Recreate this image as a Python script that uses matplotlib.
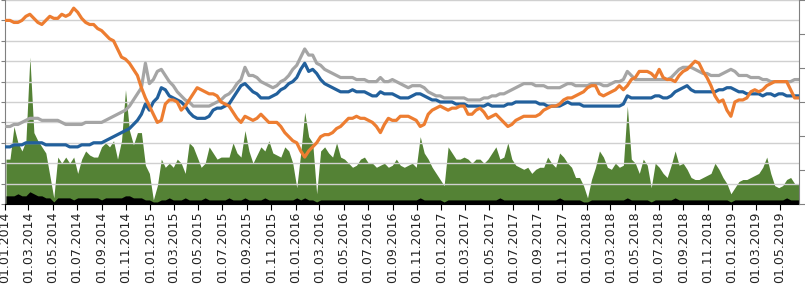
import matplotlib
matplotlib.use("Agg")
import matplotlib.pyplot as plt
import matplotlib.dates as mdates
import pandas as pd
from datetime import datetime

# one sample every 10 days
dates = pd.date_range("2014-01-04", periods=200, freq="10D")

orange = [
    90, 90, 89, 89, 90, 92, 93, 91, 89, 88,
    90, 92, 91, 91, 93, 92, 93, 96, 94, 91,
    89, 88, 88, 86, 85, 83, 81, 80, 76, 72,
    71, 69, 66, 63, 57, 52, 48, 44, 40, 41,
    49, 51, 51, 50, 46, 48, 51, 54, 57, 56,
    55, 54, 54, 53, 50, 49, 48, 45, 42, 40,
    43, 42, 41, 42, 44, 42, 40, 40, 40, 38,
    35, 33, 31, 30, 26, 23, 26, 28, 30, 33,
    34, 34, 35, 37, 38, 40, 42, 42, 43, 42,
    42, 41, 40, 38, 35, 39, 42, 41, 41, 43,
    43, 43, 42, 41, 38, 39, 44, 46, 47, 48,
    47, 46, 47, 47, 48, 48, 44, 44, 46, 47,
    45, 42, 43, 44, 42, 40, 38, 39, 41, 42,
    43, 43, 43, 43, 44, 46, 47, 48, 48, 49,
    51, 52, 52, 53, 54, 55, 57, 58, 58, 54,
    53, 54, 55, 56, 58, 56, 58, 61, 62, 65,
    65, 65, 64, 62, 66, 62, 61, 61, 60, 63,
    65, 66, 68, 70, 69, 65, 62, 58, 53, 50,
    51, 46, 43, 50, 51, 51, 52, 55, 56, 55,
    56, 58, 59, 60, 60, 60, 60, 56, 52, 52,
]

gray = [
    38, 38, 39, 39, 40, 41, 42, 42, 42, 41,
    41, 41, 41, 41, 40, 39, 39, 39, 39, 39,
    40, 40, 40, 40, 40, 41, 42, 43, 44, 45,
    46, 48, 51, 54, 57, 69, 59, 61, 65, 66,
    63, 60, 58, 55, 53, 51, 50, 48, 48, 48,
    48, 48, 49, 50, 51, 53, 54, 56, 59, 61,
    67, 63, 63, 62, 60, 59, 58, 57, 58, 60,
    61, 63, 66, 68, 72, 76, 73, 73, 69, 68,
    66, 65, 64, 63, 62, 62, 62, 62, 61, 61,
    61, 60, 60, 60, 62, 60, 60, 61, 60, 59,
    58, 57, 58, 58, 58, 57, 55, 54, 53, 53,
    52, 52, 52, 52, 52, 52, 51, 51, 51, 51,
    52, 52, 53, 53, 54, 54, 55, 56, 57, 58,
    59, 59, 59, 58, 58, 58, 57, 57, 57, 57,
    58, 59, 59, 58, 58, 58, 58, 59, 59, 59,
    58, 58, 59, 60, 60, 61, 65, 63, 61, 61,
    61, 61, 61, 61, 61, 61, 61, 62, 64, 66,
    67, 67, 67, 66, 65, 64, 64, 63, 63, 63,
    64, 65, 66, 65, 63, 63, 63, 62, 62, 62,
    61, 61, 60, 60, 60, 60, 60, 60, 61, 61,
]

blue = [
    28, 28, 29, 29, 29, 30, 30, 30, 30, 30,
    29, 29, 29, 29, 29, 29, 28, 28, 28, 29,
    29, 29, 30, 30, 30, 31, 32, 33, 34, 35,
    36, 37, 39, 41, 44, 49, 46, 50, 52, 57,
    56, 53, 52, 51, 50, 48, 45, 43, 42, 42,
    42, 43, 46, 47, 47, 48, 49, 52, 55, 58,
    59, 57, 55, 54, 52, 52, 52, 53, 54, 56,
    57, 59, 60, 62, 66, 69, 65, 66, 64, 61,
    59, 58, 57, 56, 55, 55, 55, 56, 55, 55,
    55, 54, 53, 53, 55, 54, 54, 54, 53, 52,
    52, 52, 53, 54, 54, 53, 52, 51, 51, 50,
    50, 50, 50, 49, 49, 49, 48, 48, 48, 48,
    48, 49, 48, 48, 48, 48, 49, 49, 50, 50,
    50, 50, 50, 50, 49, 49, 48, 48, 48, 48,
    49, 50, 49, 49, 49, 48, 48, 48, 48, 48,
    48, 48, 48, 48, 48, 49, 53, 52, 52, 52,
    52, 52, 52, 53, 53, 52, 52, 53, 55, 56,
    57, 58, 56, 55, 55, 55, 55, 55, 55, 56,
    56, 57, 57, 56, 55, 55, 54, 54, 54, 54,
    53, 54, 54, 53, 54, 54, 53, 53, 53, 53,
]

volume = [
    22, 22, 38, 30, 26, 31, 72, 35, 31, 28,
    25, 14, 3, 23, 20, 23, 20, 23, 15, 22,
    26, 24, 23, 23, 28, 30, 28, 31, 22, 31,
    56, 36, 29, 35, 35, 19, 15, 2, 9, 22,
    18, 20, 18, 22, 20, 15, 30, 28, 23, 18,
    20, 28, 25, 22, 23, 23, 23, 30, 25, 23,
    36, 26, 20, 24, 28, 26, 31, 25, 24, 23,
    28, 26, 20, 8, 25, 45, 33, 30, 5, 26,
    28, 25, 23, 30, 23, 22, 20, 18, 19, 22,
    23, 20, 20, 18, 19, 20, 18, 19, 22, 19,
    18, 19, 20, 18, 33, 25, 22, 18, 15, 12,
    9, 28, 25, 22, 22, 23, 22, 20, 22, 22,
    20, 22, 25, 28, 22, 23, 30, 22, 19, 18,
    17, 18, 15, 17, 18, 18, 23, 20, 18, 25,
    23, 20, 18, 13, 13, 9, 3, 12, 18, 26,
    23, 18, 17, 20, 18, 19, 48, 22, 20, 15,
    22, 19, 8, 20, 18, 15, 13, 19, 26, 19,
    20, 17, 13, 12, 12, 13, 14, 15, 20, 17,
    13, 10, 5, 8, 11, 12, 12, 13, 14, 15,
    18, 23, 15, 9, 8, 9, 12, 13, 10, 10,
]

volume_black = [
    4, 4, 4, 5, 4, 4, 6, 5, 4, 4,
    3, 3, 1, 3, 3, 3, 3, 2, 3, 3,
    3, 3, 3, 3, 2, 3, 3, 3, 3, 3,
    4, 4, 3, 3, 3, 2, 2, 1, 1, 2,
    2, 3, 2, 2, 2, 3, 2, 2, 2, 2,
    3, 2, 2, 2, 2, 2, 3, 2, 2, 2,
    3, 2, 2, 2, 2, 3, 2, 2, 2, 2,
    2, 2, 2, 3, 2, 3, 2, 2, 1, 2,
    2, 2, 2, 2, 2, 2, 2, 2, 2, 2,
    2, 2, 2, 2, 2, 2, 2, 2, 2, 2,
    2, 2, 2, 2, 3, 2, 2, 2, 2, 2,
    1, 2, 2, 2, 2, 2, 2, 2, 2, 2,
    2, 2, 2, 2, 3, 2, 2, 2, 2, 2,
    2, 2, 2, 2, 2, 2, 2, 2, 2, 3,
    2, 2, 2, 2, 2, 1, 1, 2, 2, 2,
    2, 2, 2, 2, 2, 2, 3, 2, 2, 2,
    2, 2, 1, 2, 2, 2, 2, 2, 3, 2,
    2, 2, 2, 2, 2, 2, 2, 2, 2, 2,
    2, 2, 1, 2, 2, 2, 2, 2, 2, 2,
    2, 2, 2, 2, 2, 2, 3, 2, 2, 2,
]

fig = plt.figure(figsize=(8.05, 2.86), dpi=100)
ax = fig.add_axes([4.8 / 805, 82 / 286, 794.2 / 805, 204 / 286])

# volume areas at the bottom
ax.fill_between(dates, volume, color="#548235", lw=0, zorder=1)
ax.fill_between(dates, volume_black, color="black", lw=0, zorder=1.2)

# gridlines show through the volume in the original
for g in range(10, 101, 10):
    ax.axhline(g, color="#D0D0D0", lw=1, zorder=1.5)

ax.plot(dates, gray, color="#A5A5A5", lw=2.3, zorder=3)
ax.plot(dates, blue, color="#22609C", lw=2.3, zorder=3.1)
ax.plot(dates, orange, color="#ED7D31", lw=2.3, zorder=3.2)

ax.set_xlim(datetime(2014, 1, 1), datetime(2019, 6, 18))
ax.set_ylim(0, 100)
ax.xaxis.set_major_locator(mdates.MonthLocator(bymonth=[1, 3, 5, 7, 9, 11]))
ax.xaxis.set_major_formatter(mdates.DateFormatter("%d.%m.%Y"))
ax.tick_params(axis="x", length=4, color="black", labelrotation=90,
               labelsize=9, labelcolor="#222222", pad=1.5)
ax.set_yticks(range(0, 101, 10))
ax.set_yticklabels([])
ax.tick_params(axis="y", length=3, color="#808080")

for s in ["top", "right"]:
    ax.spines[s].set_visible(False)
ax.spines["left"].set_color("#808080")
ax.spines["bottom"].set_color("black")

# secondary axis, ticks only
ax2 = ax.twinx()
ax2.set_ylim(0, 6)
ax2.set_yticks(range(0, 7))
ax2.set_yticklabels([])
ax2.tick_params(axis="y", length=4, color="#808080")
for s in ["top", "left", "bottom"]:
    ax2.spines[s].set_visible(False)
ax2.spines["right"].set_color("#808080")

fig.savefig("out.png", dpi=100)
